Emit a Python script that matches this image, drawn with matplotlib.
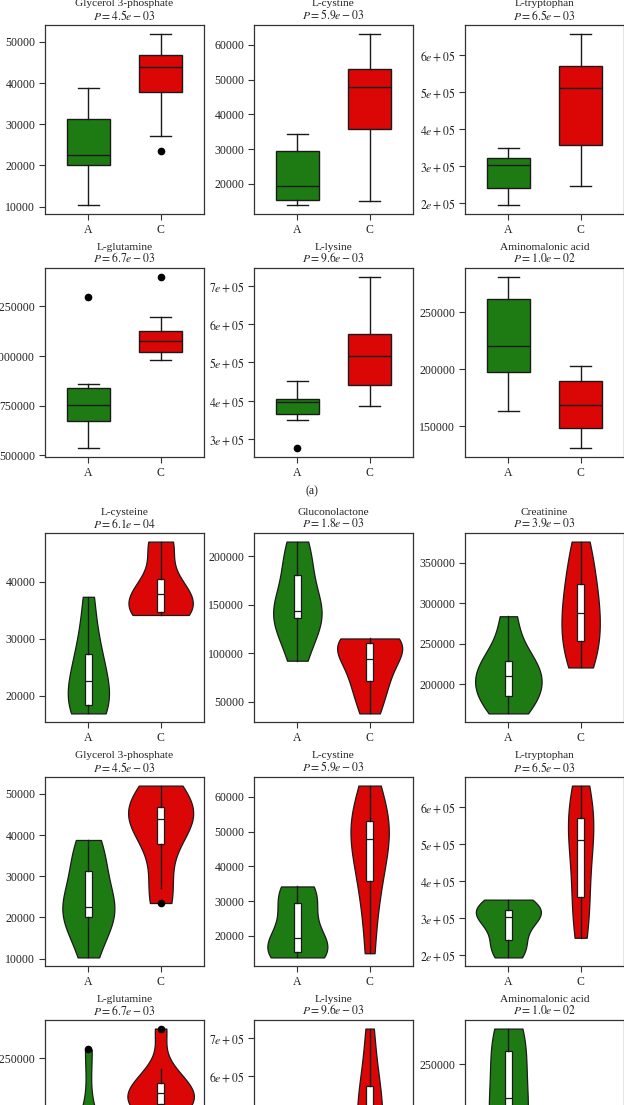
import matplotlib
matplotlib.use('Agg')
from matplotlib import pyplot as plt
from matplotlib.ticker import MultipleLocator, FuncFormatter

plt.rcParams['font.family'] = 'serif'
plt.rcParams['font.serif'] = ['Liberation Serif', 'DejaVu Serif']
plt.rcParams['mathtext.fontset'] = 'stix'

groups = ['A', 'C']

# values per group (9 samples each)
cysteine_A = [16900, 17500, 18300, 20000, 22650, 24500, 27350, 31000, 37400]
cysteine_C = [34200, 34400, 34650, 36000, 37830, 38500, 40580, 46500, 47100]
glucono_A = [92300, 118000, 135800, 140000, 144000, 152000, 180760, 198000, 215000]
glucono_C = [38000, 60000, 71000, 88000, 94300, 109000, 110500, 115000, 115200]
creatinine_A = [164000, 178000, 186000, 200000, 209800, 216000, 228400, 245000, 283900]
creatinine_C = [220700, 238000, 253200, 272000, 288000, 305000, 324000, 350000, 376000]
glycerol_A = [10300, 17000, 20200, 21500, 22600, 26000, 31300, 35000, 38800]
glycerol_C = [23500, 27200, 37800, 42500, 44000, 45500, 46800, 48000, 52000]
cystine_A = [13800, 14500, 15400, 17000, 19400, 24000, 29300, 32500, 34200]
cystine_C = [15000, 30000, 35800, 44000, 47900, 50500, 52900, 56000, 63200]
tryptophan_A = [194000, 220000, 241000, 290000, 302000, 315000, 321000, 338000, 350000]
tryptophan_C = [247000, 320000, 356000, 450000, 510600, 540000, 571300, 615000, 658000]
glutamine_A = [535300, 620000, 673200, 720000, 751700, 800000, 839300, 861000, 1295000]
glutamine_C = [978200, 1000000, 1018500, 1050000, 1077400, 1100000, 1127700, 1195000, 1400000]
lysine_A = [275400, 350700, 365700, 385000, 397200, 401000, 404100, 420000, 450500]
lysine_C = [387500, 420000, 440000, 480000, 517000, 550000, 573200, 640000, 724400]
aminomalonic_A = [163700, 180000, 197500, 210000, 220400, 240000, 261800, 275000, 281400]
aminomalonic_C = [130400, 140000, 148200, 160000, 168700, 180000, 189500, 198000, 203100]

names = ['L-cysteine', 'Gluconolactone', 'Creatinine',
         'Glycerol 3-phosphate', 'L-cystine', 'L-tryptophan',
         'L-glutamine', 'L-lysine', 'Aminomalonic acid']
pvals = ['6.1e-04', '1.8e-03', '3.9e-03', '4.5e-03', '5.9e-03', '6.5e-03',
         '6.7e-03', '9.6e-03', '1.0e-02']
values = [(cysteine_A, cysteine_C), (glucono_A, glucono_C), (creatinine_A, creatinine_C),
          (glycerol_A, glycerol_C), (cystine_A, cystine_C), (tryptophan_A, tryptophan_C),
          (glutamine_A, glutamine_C), (lysine_A, lysine_C), (aminomalonic_A, aminomalonic_C)]

# styling
tick_step = [10000, 50000, 50000, 10000, 10000, 100000, 250000, 100000, 50000]
sci_axis = [False, False, False, False, False, True, False, True, False]
violin_w = [(0.57, 0.89), (0.67, 0.9), (0.92, 0.53),
            (0.72, 0.9), (0.83, 0.53), (0.9, 0.35),
            (0.57, 0.92), (0.85, 0.35), (0.54, 0.9)]
GREEN = '#1e7b14'
RED = '#db0606'
EDGE = '#1a1a1a'
TXT = '#222222'

W, H = 624, 1105
fig = plt.figure(figsize=(W / 100, H / 100), dpi=100)

col_left = [45, 254, 465]
ax_w, ax_h = 159, 189


def make_ax(top, col, i):
    ax = fig.add_axes([col_left[col] / W, 1 - (top + ax_h) / H, ax_w / W, ax_h / H])
    for s in ax.spines.values():
        s.set_linewidth(0.9)
        s.set_color('#333333')
    ax.tick_params(length=4, width=0.8, color='#333333', labelsize=8.5, pad=3,
                   labelcolor=TXT)
    # two title lines, 1 px = 0.72 pt
    ax.annotate(names[i], (0.5, 1), xycoords='axes fraction', xytext=(0, 21 * 0.72),
                textcoords='offset points', ha='center', va='center', fontsize=8.2, color=TXT)
    ax.annotate(f'$P = {pvals[i]}$', (0.5, 1), xycoords='axes fraction',
                xytext=(0, 9.5 * 0.72), textcoords='offset points', ha='center',
                va='center', fontsize=8.4, color=TXT)
    ax.yaxis.set_major_locator(MultipleLocator(tick_step[i]))
    if sci_axis[i]:
        ax.yaxis.set_major_formatter(FuncFormatter(lambda v, p: f'${v / 1e5:.0f}e+05$'))
    else:
        ax.yaxis.set_major_formatter(FuncFormatter(lambda v, p: f'{v:.0f}'))
    return ax


def finish_x(ax):
    ax.set_xlim(-0.6, 1.6)
    ax.set_xticks([0, 1])
    ax.set_xticklabels(groups)


flier = dict(marker='o', markerfacecolor='black', markeredgecolor='black', markersize=4.5)

# (a) box plots
box_rows = [25, 268]
for k, i in enumerate(range(3, 9)):
    ax = make_ax(box_rows[k // 3], k % 3, i)
    bp = ax.boxplot(values[i], positions=[0, 1], widths=0.6, patch_artist=True,
                    boxprops=dict(edgecolor=EDGE, linewidth=1.0),
                    medianprops=dict(color=EDGE, linewidth=1.0),
                    whiskerprops=dict(color=EDGE, linewidth=1.0),
                    capprops=dict(color=EDGE, linewidth=1.0),
                    flierprops=flier)
    for patch, c in zip(bp['boxes'], [GREEN, RED]):
        patch.set_facecolor(c)
    finish_x(ax)

fig.text(312 / W, 1 - 491 / H, '(a)', ha='center', va='center', fontsize=8.5, color=TXT)

# (b) violin plots
violin_rows = [533, 777, 1020]
for i in range(9):
    ax = make_ax(violin_rows[i // 3], i % 3, i)
    for pos, d, c, w in zip([0, 1], values[i], [GREEN, RED], violin_w[i]):
        vp = ax.violinplot([d], positions=[pos], widths=w, showextrema=False, points=200)
        for body in vp['bodies']:
            body.set_facecolor(c)
            body.set_edgecolor(EDGE)
            body.set_linewidth(0.9)
            body.set_alpha(1)
    ax.boxplot(values[i], positions=[0, 1], widths=0.1, patch_artist=True, showcaps=False,
               boxprops=dict(facecolor='white', edgecolor=EDGE, linewidth=0.9),
               medianprops=dict(color=EDGE, linewidth=0.9),
               whiskerprops=dict(color=EDGE, linewidth=1.0),
               flierprops=flier, zorder=3)
    finish_x(ax)

fig.savefig('out.png', dpi=100)
